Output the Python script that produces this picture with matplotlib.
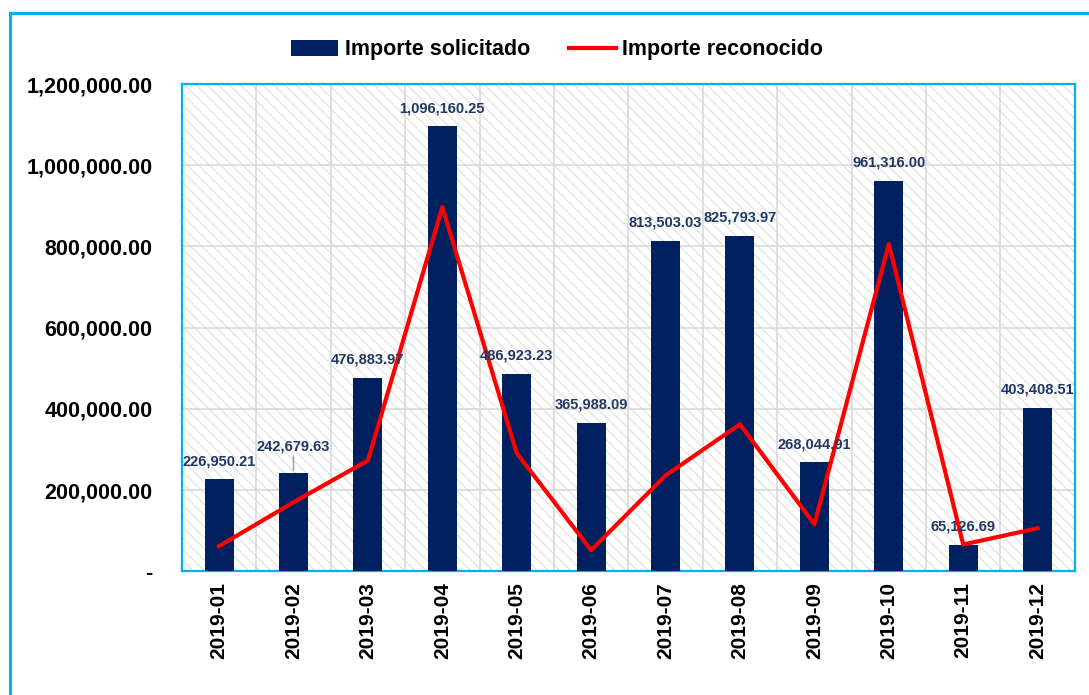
import matplotlib
matplotlib.use('Agg')
from matplotlib import pyplot as plt
from matplotlib.patches import Rectangle

months = ['2019-01', '2019-02', '2019-03', '2019-04', '2019-05', '2019-06',
          '2019-07', '2019-08', '2019-09', '2019-10', '2019-11', '2019-12']
solicitado = [226950.21, 242679.63, 476883.97, 1096160.25, 486923.23, 365988.09,
              813503.03, 825793.97, 268044.91, 961316.00, 65126.69, 403408.51]
reconocido = [62000, 170000, 273000, 897000, 291000, 52000,
              236000, 362000, 116000, 806000, 66000, 106000]

navy = '#002060'
red = '#FF0000'
blue = '#00B0F0'
grid_gray = '#D9D9D9'

plt.rcParams['font.family'] = ['Liberation Sans', 'DejaVu Sans']
plt.rcParams['font.weight'] = 'bold'
plt.rcParams['hatch.linewidth'] = 0.9

fig = plt.figure(figsize=(10.89, 6.95), dpi=100)
ax = fig.add_axes([0.167, 0.178, 0.820, 0.701])

# outer frame around the whole chart
fig.patches.append(Rectangle((0.009, -0.1), 1.2, 0.1 + 0.981, transform=fig.transFigure,
                             fill=False, edgecolor=blue, linewidth=2.2, zorder=0))

# hatched plot background
ax.set_facecolor('white')
ax.add_patch(Rectangle((0, 0), 1, 1, transform=ax.transAxes, facecolor='white',
                       edgecolor='#E2E2E2', hatch='\\\\\\', linewidth=0, zorder=0))

x = list(range(len(months)))
bars = ax.bar(x, solicitado, width=0.39, color=navy, zorder=3, label='Importe solicitado')
line, = ax.plot(x, reconocido, color=red, linewidth=3, zorder=4, label='Importe reconocido')

for xi, v in zip(x, solicitado):
    dy = 8
    if xi == 1:
        # label was pulled up in the original, with a leader line
        dy = 14
        ax.annotate('', (xi, v), xytext=(0, 14), textcoords='offset points',
                    arrowprops=dict(arrowstyle='-', color='#A6A6A6', lw=1.2), zorder=2)
    ax.annotate(f'{v:,.2f}', (xi, v), xytext=(0, dy), textcoords='offset points',
                ha='center', va='bottom', fontsize=10.5, fontweight='bold', color='#1F3864',
                zorder=5)

ax.set_xlim(-0.5, len(months) - 0.5)
ax.set_ylim(0, 1200000)
yticks = list(range(0, 1200001, 200000))
ax.set_yticks(yticks)
ax.set_yticklabels(['-' if t == 0 else f'{t:,.2f}' for t in yticks])
ax.set_xticks(x)
ax.set_xticklabels(months, rotation=90)
ax.tick_params(axis='both', length=0)
ax.tick_params(axis='y', pad=21, labelsize=15.5)
ax.tick_params(axis='x', pad=8, labelsize=15)

for gy in yticks[1:-1]:
    ax.axhline(gy, color=grid_gray, linewidth=1.2, zorder=1)
for gx in range(len(months) - 1):
    ax.axvline(gx + 0.5, color=grid_gray, linewidth=1.2, zorder=1)

for s in ax.spines.values():
    s.set_color(blue)
    s.set_linewidth(1.6)

fig.legend([bars, line], ['Importe solicitado', 'Importe reconocido'],
           loc='center', bbox_to_anchor=(557 / 1089, 1 - 50 / 695), ncol=2,
           frameon=False, fontsize=15.5, handlelength=2.2, handletextpad=0.3,
           columnspacing=1.8)

plt.savefig('out.png', dpi=100)
